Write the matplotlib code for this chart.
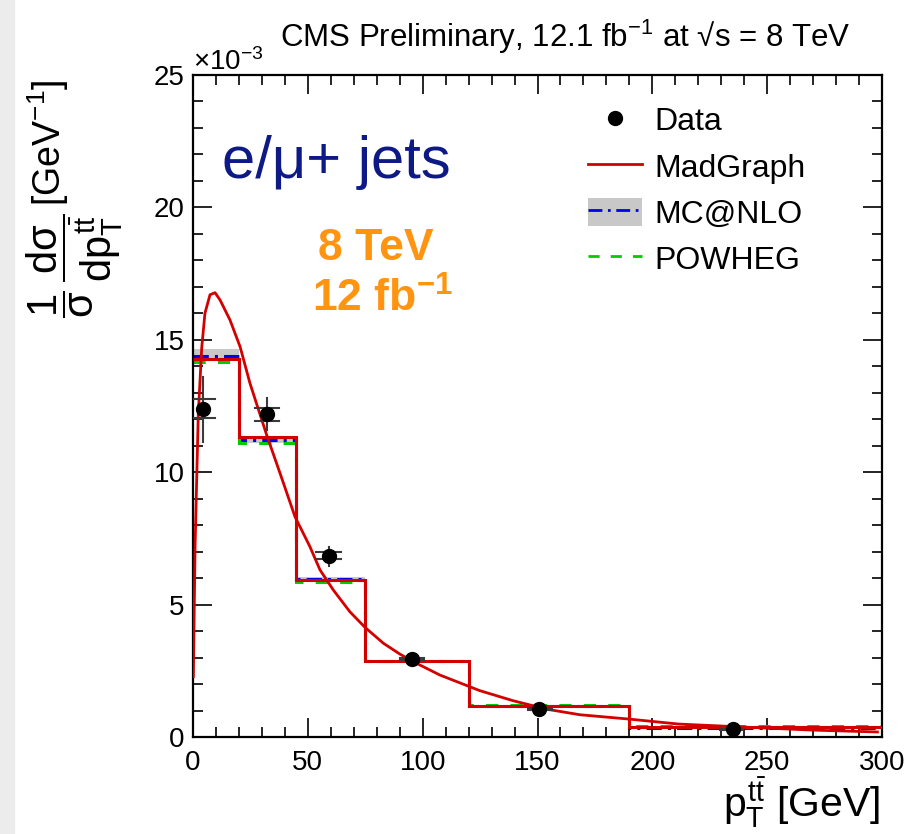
import matplotlib
matplotlib.use('Agg')
import matplotlib.pyplot as plt
from matplotlib.patches import Rectangle, Patch
from matplotlib.lines import Line2D

plt.rcParams['font.family'] = ['Liberation Sans', 'DejaVu Sans']
plt.rcParams['mathtext.fontset'] = 'custom'
plt.rcParams['mathtext.rm'] = 'Liberation Sans'
plt.rcParams['mathtext.it'] = 'Liberation Sans'
plt.rcParams['mathtext.bf'] = 'Liberation Sans:bold'

# Werte in Einheiten von 10^-3 GeV^-1
bin_edges = [0, 20, 45, 75, 120, 190, 300]
madgraph_hist = [14.27, 11.34, 5.93, 2.87, 1.17, 0.37]
mcatnlo_hist = [14.38, 11.22, 5.97, 2.87, 1.16, 0.35]
mcatnlo_band_lo = [14.22, 11.12, 5.91, 2.83, 1.13, 0.33]
mcatnlo_band_hi = [14.64, 11.30, 6.03, 2.91, 1.19, 0.37]
powheg_hist = [14.15, 11.12, 5.87, 2.88, 1.21, 0.40]

# Daten
data_x = [4.2, 32.1, 59.2, 95.2, 150.8, 235.2]
data_y = [12.39, 12.19, 6.84, 2.95, 1.06, 0.30]
data_xlo = [4.2, 5.1, 5.7, 5.1, 4.8, 5.8]
data_xhi = [5.4, 5.5, 5.4, 5.4, 5.4, 4.2]
data_tot_lo = [1.24, 0.60, 0.38, 0.15, 0.08, 0.05]
data_tot_hi = [1.21, 0.60, 0.35, 0.15, 0.08, 0.05]
data_stat = [0.36, 0.24, 0.13, 0.05, 0.03, 0.02]

# MadGraph Kurve
mg_x = [0.15, 0.9, 2.3, 3.8, 5.2, 7.4, 9.6, 11.8, 16.1, 20.5, 24.8, 32.1, 37.9,
        44.4, 50.9, 55.3, 61.1, 68.3, 74.9, 82.9, 90.1, 97.4, 107.5, 124.9,
        139.4, 154.0, 168.5, 189.5, 211.3, 241.0, 270.0, 298.0]
mg_y = [2.28, 7.19, 12.2, 14.7, 16.0, 16.7, 16.78, 16.5, 15.75, 14.74, 13.36,
        11.4, 9.96, 8.32, 7.19, 6.31, 5.55, 4.73, 4.14, 3.54, 3.13, 2.78, 2.34,
        1.75, 1.37, 1.05, 0.84, 0.68, 0.49, 0.37, 0.26, 0.19]

W, H = 908, 834
fig = plt.figure(figsize=(W / 100, H / 100), dpi=100)
fig.patches.append(Rectangle((0, 0), 14 / W, 1, transform=fig.transFigure,
                             color='#ececec', zorder=0))

ax = fig.add_axes([193 / W, 1 - 737 / H, (882 - 193) / W, (737 - 75) / H])

red = '#d40000'
blue = '#0000ee'
green = '#00cc00'

# MC@NLO Band
ax.stairs(mcatnlo_band_hi, bin_edges, baseline=mcatnlo_band_lo, fill=True,
          color='#c8c8c8', lw=0, zorder=1)
ax.stairs(mcatnlo_hist, bin_edges, baseline=None, color=blue, lw=2.2,
          linestyle=(0, (5, 2, 1, 2)), zorder=2)
ax.stairs(powheg_hist, bin_edges, baseline=None, color=green, lw=2.2,
          linestyle=(0, (4, 4)), zorder=2)
ax.stairs(madgraph_hist, bin_edges, baseline=None, color=red, lw=2.2, zorder=3)
ax.plot(mg_x, mg_y, color=red, lw=2.0, zorder=4)

# Fehlerbalken der Daten
for x, y, xl, xh, tl, th, st in zip(data_x, data_y, data_xlo, data_xhi,
                                    data_tot_lo, data_tot_hi, data_stat):
    ax.plot([x, x], [y - tl, y + th], color='#3a3a3a', lw=1.5, zorder=5)
    ax.plot([x - xl, x + xh], [y - st, y - st], color='#3a3a3a', lw=1.5, zorder=5)
    ax.plot([x - xl, x + xh], [y + st, y + st], color='#3a3a3a', lw=1.5, zorder=5)
ax.plot(data_x, data_y, 'o', color='black', ms=10, zorder=6)

ax.set_xlim(0, 300)
ax.set_ylim(0, 25)
ax.set_xticks(range(0, 301, 50))
ax.set_xticks(range(0, 301, 10), minor=True)
ax.set_yticks(range(0, 26, 5))
ax.set_yticks(range(0, 26, 1), minor=True)
ax.tick_params(which='both', direction='in', top=True, right=True, width=1.2,
               labelsize=20)
ax.tick_params(which='major', length=14)
ax.tick_params(which='minor', length=7)
ax.tick_params(axis='x', pad=9)
ax.tick_params(axis='y', pad=6)
for s in ax.spines.values():
    s.set_linewidth(1.6)

fig.text(193 / W, 1 - 70 / H, r'$\times$10$^{-3}$', fontsize=20,
         ha='left', va='baseline')
fig.text(565 / W, 1 - 47 / H,
         r'CMS Preliminary, 12.1 fb$^{-1}$ at √s = 8 TeV', fontsize=22.5,
         ha='center', va='baseline')

# y-Achsenbeschriftung: Bruch und Einheit getrennt
fig.text(75 / W, 1 - 266 / H,
         r'$\dfrac{1}{\sigma}\,\dfrac{d\sigma}{dp_{T}^{t\bar{t}}}$',
         fontsize=30, rotation=90, ha='center', va='center')
fig.text(48 / W, 1 - 143 / H, r'[GeV$^{-1}$]',
         fontsize=27, rotation=90, ha='center', va='center')
fig.text(880 / W, 1 - 817 / H, r'$p_{T}^{t\bar{t}}$ [GeV]', fontsize=29.5,
         ha='right', va='baseline')

fig.text(222 / W, 1 - 162 / H, 'e/μ+ jets', fontsize=43, color='#0d1a85',
         ha='left', va='center')
fig.text(376 / W, 1 - 249 / H, '8 TeV', fontsize=32, color='#ff9410',
         fontweight='bold', ha='center', va='center')
fig.text(382 / W, 1 - 299 / H, r'12 fb$^{\mathbf{-1}}$', fontsize=32,
         color='#ff9410', fontweight='bold', ha='center', va='center')

handles = [
    Line2D([], [], marker='o', color='black', ms=10, linestyle='none'),
    Line2D([], [], color=red, lw=2),
    (Patch(facecolor='#c8c8c8', edgecolor='none'),
     Line2D([], [], color=blue, lw=2, linestyle=(0, (5, 2, 1, 2)))),
    Line2D([], [], color=green, lw=2, linestyle=(0, (4, 4))),
]
labels = ['Data', 'MadGraph', 'MC@NLO', 'POWHEG']
fig.legend(handles, labels, loc='upper left',
           bbox_to_anchor=(588 / W, 1 - 105 / H), frameon=False, fontsize=23,
           borderpad=0, borderaxespad=0, handlelength=1.7, handleheight=1.0,
           handletextpad=0.38, labelspacing=0.44)

fig.savefig('out.png', dpi=100)
